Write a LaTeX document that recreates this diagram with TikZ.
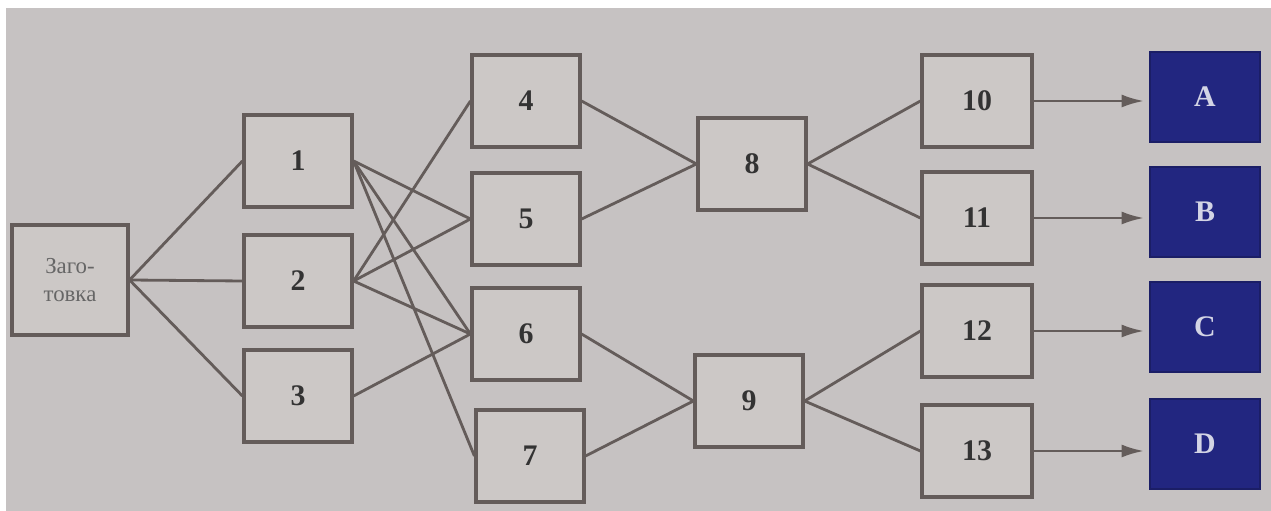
\documentclass[tikz,border=0pt]{standalone}
\usepackage{fontspec}
\setmainfont{Liberation Serif}
\usepackage{xcolor}
\usetikzlibrary{arrows.meta,positioning}
\definecolor{paper}{RGB}{198,194,194}
\definecolor{boxfill}{RGB}{204,200,198}
\definecolor{ink}{RGB}{100,92,90}
\definecolor{navy}{RGB}{34,38,128}

\begin{document}
\begin{tikzpicture}[
  font=\fontsize{17}{19}\selectfont\bfseries,
  block/.style={draw=ink, line width=1.8pt, fill=boxfill, text=black!80,
                minimum width=2.16cm, minimum height=1.84cm, inner sep=0pt},
  startbox/.style={block, minimum width=2.32cm, minimum height=2.2cm,
                   align=center, font=\fontsize{13}{16}\selectfont, text=black!60},
  goal/.style={draw=navy!80!black, line width=1pt, fill=navy, text=white!80!navy,
               minimum width=2.2cm, minimum height=1.8cm, inner sep=0pt},
  link/.style={draw=ink, line width=1.6pt},
  arrow/.style={link, shorten >=1mm, -{Latex[length=4.5mm,width=2.6mm]}}
]

% ===== frame =====
\fill[white] (0,0) rectangle (25.42,10.22);
\fill[paper] (0.12,0) rectangle (25.42,10.06);
\useasboundingbox (0,0) rectangle (25.42,10.22);

% ===== nodes =====
\node[startbox] (blank) at (1.40,4.62) {Заго-\\товка};

\node[block] (n1) at (5.96,7.00) {1};
\node[block] (n2) at (5.96,4.60) {2};
\node[block] (n3) at (5.96,2.30) {3};

\node[block] (n4) at (10.52,8.20) {4};
\node[block] (n5) at (10.52,5.84) {5};
\node[block] (n6) at (10.52,3.54) {6};
\node[block] (n7) at (10.60,1.10) {7};

\node[block] (n8) at (15.04,6.94) {8};
\node[block] (n9) at (14.98,2.20) {9};

\node[block, minimum width=2.2cm] (n10) at (19.54,8.20) {10};
\node[block, minimum width=2.2cm] (n11) at (19.54,5.86) {11};
\node[block, minimum width=2.2cm] (n12) at (19.54,3.60) {12};
\node[block, minimum width=2.2cm] (n13) at (19.54,1.20) {13};

\node[goal] (ga) at (24.10,8.28) {A};
\node[goal] (gb) at (24.10,5.98) {B};
\node[goal] (gc) at (24.10,3.68) {C};
\node[goal] (gd) at (24.10,1.34) {D};

% ===== links =====
\foreach \a/\b in {blank/n1, blank/n2, blank/n3,
                   n1/n5, n1/n6, n1/n7,
                   n2/n4, n2/n5, n2/n6,
                   n3/n6,
                   n4/n8, n5/n8, n6/n9, n7/n9,
                   n8/n10, n8/n11, n9/n12, n9/n13}
  \draw[link] (\a.east) -- (\b.west);

% ===== outputs =====
\draw[arrow] (n10.east) -- (n10.east -| ga.west);
\draw[arrow] (n11.east) -- (n11.east -| gb.west);
\draw[arrow] (n12.east) -- (n12.east -| gc.west);
\draw[arrow] (n13.east) -- (n13.east -| gd.west);

\end{tikzpicture}
\end{document}
